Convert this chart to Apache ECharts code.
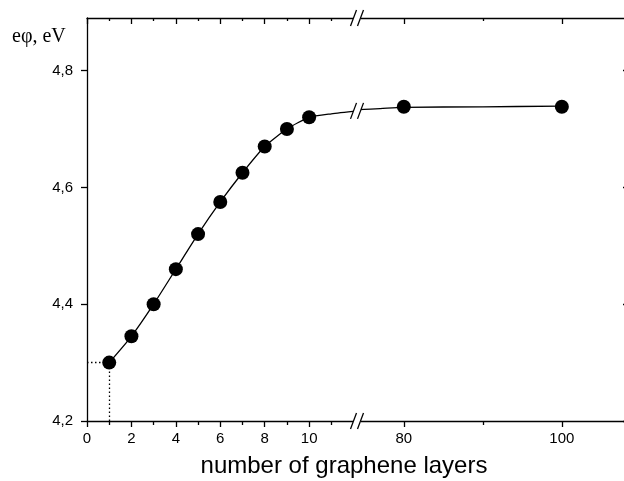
<!DOCTYPE html>
<html>
<head>
<meta charset="utf-8">
<script src="https://cdn.jsdelivr.net/npm/echarts@6/dist/echarts.min.js"></script>
<style>
  html, body { margin: 0; padding: 0; background: #fff; }
  #chart { width: 624px; height: 481px; }
</style>
</head>
<body>
<div id="chart"></div>
<script>
// measured points: work function vs number of graphene layers
const layers = [1, 2, 3, 4, 5, 6, 7, 8, 9, 10, 80, 100];
const workFunction = [4.30, 4.345, 4.40, 4.46, 4.52, 4.575, 4.625, 4.67, 4.70, 4.72, 4.738, 4.738];

// fitted curve (left and right of the axis break)
const fitLeftX = [1, 2, 3, 4, 5, 6, 7, 8, 9, 10, 11, 12.2];
const fitLeftY = [4.30, 4.345, 4.40, 4.46, 4.52, 4.575, 4.625, 4.67, 4.70, 4.72, 4.726, 4.731];
const fitRightX = [74.2, 77, 80, 90, 100];
const fitRightY = [4.733, 4.735, 4.737, 4.738, 4.739];

// axis ranges and ticks
const leftRange = [0, 12.2];
const rightRange = [74.2, 108.5];
const leftMajor = [0, 2, 4, 6, 8, 10];
const leftMinor = [1, 3, 5, 7, 9, 11];
const rightMajor = [80, 100];
const rightMinor = [90];
const yTicks = [4.2, 4.4, 4.6, 4.8];
const yRange = [4.2, 4.89];

const chart = echarts.init(document.getElementById('chart'));
const black = '#000';
const font = 'Liberation Sans';

// 4 x axes per grid: bottom major / minor, top major / minor
function xAxes(gridIndex, range, major, minor) {
  const base = {
    gridIndex: gridIndex, type: 'value', min: range[0], max: range[1],
    splitLine: { show: false },
    axisLine: { show: true, lineStyle: { color: black, width: 1.3 } }
  };
  return [
    Object.assign({}, base, {
      position: 'bottom',
      axisTick: { customValues: major, length: 6, inside: false, lineStyle: { color: black, width: 1.3 } },
      axisLabel: { customValues: major, color: black, fontFamily: font, fontSize: 15, margin: 10 }
    }),
    Object.assign({}, base, {
      position: 'bottom',
      axisLine: { show: false },
      axisTick: { customValues: minor, length: 4, inside: false, lineStyle: { color: black, width: 1.3 } },
      axisLabel: { show: false }
    }),
    Object.assign({}, base, {
      position: 'top',
      axisTick: { customValues: major, length: 6, inside: true, lineStyle: { color: black, width: 1.3 } },
      axisLabel: { show: false }
    }),
    Object.assign({}, base, {
      position: 'top',
      axisLine: { show: false },
      axisTick: { customValues: minor, length: 3, inside: true, lineStyle: { color: black, width: 1.3 } },
      axisLabel: { show: false }
    })
  ];
}

const leftPts = [], rightPts = [];
layers.forEach((x, i) => {
  (x <= leftRange[1] ? leftPts : rightPts).push([x, workFunction[i]]);
});

const option = {
  backgroundColor: '#fff',
  animation: false,
  grid: [
    { left: 87, top: 18, width: 271, height: 403, outerBoundsMode: 'none' },
    { left: 358, top: 18, width: 271, height: 403, outerBoundsMode: 'none' }
  ],
  xAxis: xAxes(0, leftRange, leftMajor, leftMinor).concat(xAxes(1, rightRange, rightMajor, rightMinor)),
  yAxis: [
    {
      gridIndex: 0, type: 'value', position: 'left', min: yRange[0], max: yRange[1],
      splitLine: { show: false },
      axisLine: { show: true, lineStyle: { color: black, width: 1.3 } },
      axisTick: { customValues: yTicks, length: 6, inside: false, lineStyle: { color: black, width: 1.3 } },
      axisLabel: {
        customValues: yTicks, color: black, fontFamily: font, fontSize: 15, margin: 14,
        formatter: v => v.toFixed(1).replace('.', ',')
      }
    },
    {
      gridIndex: 1, type: 'value', position: 'right', min: yRange[0], max: yRange[1],
      splitLine: { show: false },
      axisLine: { show: true, lineStyle: { color: black, width: 1.3 } },
      axisTick: { customValues: yTicks, length: 6, inside: true, lineStyle: { color: black, width: 1.3 } },
      axisLabel: { show: false }
    }
  ],
  series: [
    {
      type: 'line', xAxisIndex: 0, yAxisIndex: 0, smooth: 0.2, showSymbol: false,
      data: fitLeftX.map((x, i) => [x, fitLeftY[i]]),
      lineStyle: { color: black, width: 1.3 }, z: 2
    },
    {
      type: 'line', xAxisIndex: 4, yAxisIndex: 1, smooth: 0.3, showSymbol: false,
      data: fitRightX.map((x, i) => [x, fitRightY[i]]),
      lineStyle: { color: black, width: 1.3 }, z: 2
    },
    {
      type: 'scatter', xAxisIndex: 0, yAxisIndex: 0, symbolSize: 14,
      itemStyle: { color: black, opacity: 1 }, data: leftPts, z: 3,
      markLine: {
        silent: true, symbol: 'none', label: { show: false },
        lineStyle: { color: black, type: [1.5, 2.5], width: 1.3, opacity: 1 },
        data: [
          [{ coord: [0, workFunction[0]] }, { coord: [layers[0], workFunction[0]] }],
          [{ coord: [layers[0], yRange[0]] }, { coord: [layers[0], workFunction[0]] }]
        ]
      }
    },
    {
      type: 'scatter', xAxisIndex: 4, yAxisIndex: 1, symbolSize: 14,
      itemStyle: { color: black, opacity: 1 }, data: rightPts, z: 3
    }
  ],
  graphic: [
    {
      type: 'text', left: 12, top: 27,
      style: { text: 'eφ, eV', font: '20px "Liberation Serif"', fill: black }
    },
    {
      type: 'text', x: 344, y: 478,
      style: { text: 'number of graphene layers', font: '24px "Liberation Sans"', fill: black,
        textAlign: 'center', textVerticalAlign: 'bottom' }
    }
  ]
};
chart.setOption(option);

// axis break marks "//" on the top and bottom axes and on the curve
const bx = chart.convertToPixel({ xAxisIndex: 0 }, leftRange[1]) - 1;
const yTop = chart.convertToPixel({ yAxisIndex: 0 }, yRange[1]);
const yBot = chart.convertToPixel({ yAxisIndex: 0 }, yRange[0]);
const yCurve = chart.convertToPixel({ yAxisIndex: 0 }, fitLeftY[fitLeftY.length - 1]);
const marks = [];
[yTop, yBot, yCurve].forEach(yy => {
  marks.push({
    type: 'rect', z: 100,
    shape: { x: bx - 4, y: yy - 3, width: 8, height: 6 },
    style: { fill: '#fff' }
  });
  [-3.5, 3.5].forEach(dx => {
    marks.push({
      type: 'line', z: 101,
      shape: { x1: bx + dx - 3, y1: yy + 8, x2: bx + dx + 3, y2: yy - 8 },
      style: { stroke: black, lineWidth: 1.3 }
    });
  });
});
chart.setOption({ graphic: option.graphic.concat(marks) });
</script>
</body>
</html>
